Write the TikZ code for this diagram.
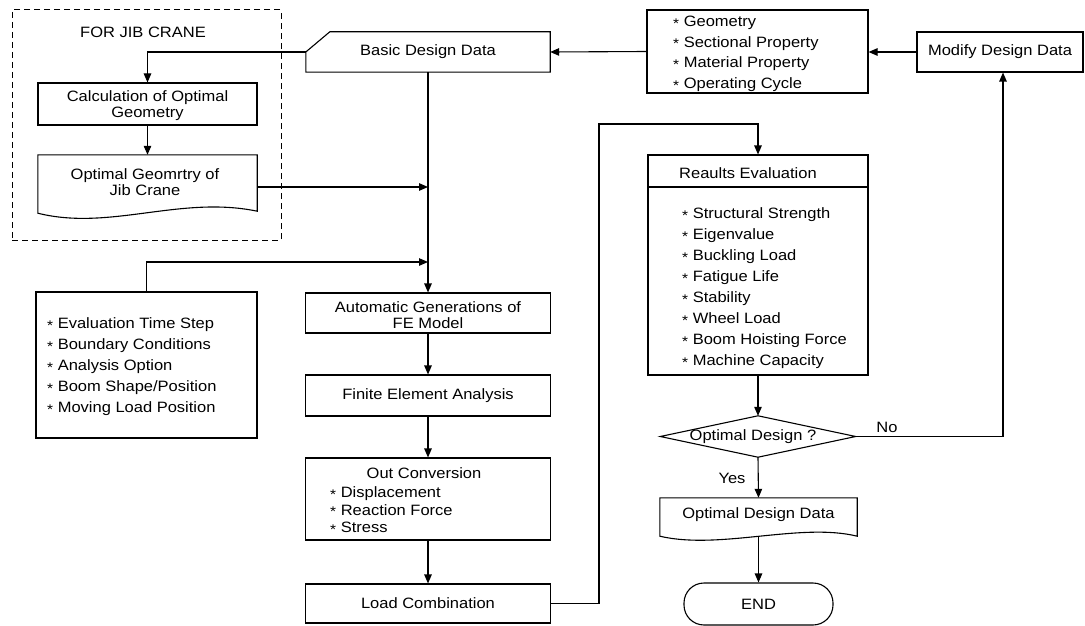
\documentclass[tikz,border=0pt]{standalone}
\usepackage{fontspec}
\setmainfont{Liberation Sans}[FakeStretch=1.1]
\usetikzlibrary{arrows.meta}
\newcommand{\st}{{\fontsize{14}{14}\selectfont\raisebox{-1.6pt}{*}}\ }
\begin{document}
\begin{tikzpicture}[x=1pt,y=-1pt,
  every node/.style={font=\fontsize{15}{16}\selectfont, inner sep=0pt},
  box/.style={draw, line width=1.1pt, align=center},
  shp/.style={line width=1.1pt},
  arr/.style={line width=1.1pt, -{Triangle[length=9pt,width=7.5pt]}},
  txt/.style={anchor=base west},
]
\useasboundingbox (0,0) rectangle (1085,626);

% dashed jib crane frame
\node[draw, line width=1pt, dash pattern=on 6pt off 4pt, minimum width=269pt, minimum height=230pt] (jib) at (146.5,125) {};
\node (jibt) at (143,32) {FOR JIB CRANE};

% basic design data (manual input)
\node[minimum width=244pt, minimum height=40pt] (basic) at (428,52) {Basic Design Data};
\draw[shp] (basic.south west) -- (basic.west) -- ([xshift=24pt]basic.north west) -- (basic.north east) -- (basic.south east) -- cycle;

% input list box
\node[box, minimum width=221pt, minimum height=83pt] (lst) at (757.5,51.5) {};
\foreach \t [count=\i] in {Geometry, Sectional Property, Material Property, Operating Cycle}
  \node[txt] (l\i) at (673,{26.5+20.7*(\i-1)}) {\st\t};

% modify
\node[box, minimum width=166pt, minimum height=40pt] (mod) at (1000,52) {Modify Design Data};

% calc
\node[box, minimum width=219pt, minimum height=42pt] (calc) at (147.5,104) {};
\node[align=center] (calct) at (147.5,106) {Calculation of Optimal\\Geometry};

% optimal geometry document
\node[minimum width=219pt, minimum height=51pt] (og) at (147.5,180.5) {};
\node[align=center] (ogt) at (145,182) {Optimal Geomrtry of\\Jib Crane};
\draw[shp] (og.north west) -- (og.north east) -- ([yshift=-5pt]og.south east)
  .. controls +(-77,-16) and +(72,18) .. ([yshift=-7pt]og.south west) -- cycle;

% central column
\node[box, minimum width=245pt, minimum height=40pt] (auto) at (428,313) {};
\node[align=center] (autot) at (428,315) {Automatic Generations of\\FE Model};
\node[box, minimum width=245pt, minimum height=41pt] (fea) at (428,395.5) {Finite Element Analysis};
\node[box, minimum width=245pt, minimum height=82pt] (out) at (428,499) {};
\node (outt) at (424,473) {Out Conversion};
\foreach \t [count=\i] in {Displacement, Reaction Force, Stress}
  \node[txt] (o\i) at (330,{497.5+17.5*(\i-1)}) {\st\t};
\node[box, minimum width=245pt, minimum height=39pt] (load) at (428,603.5) {Load Combination};

% parameters box
\node[box, minimum width=221pt, minimum height=146pt] (par) at (146.5,365) {};
\foreach \t [count=\i] in {Evaluation Time Step, Boundary Conditions, Analysis Option, Boom Shape/Position, Moving Load Position}
  \node[txt] (p\i) at (47,{328.5+21*(\i-1)}) {\st\t};

% results evaluation
\node[box, minimum width=220pt, minimum height=220pt] (res) at (758,265) {};
\coordinate (sep) at (0,187);
\draw[shp] (res.west |- sep) -- (res.east |- sep);
\node[txt] (rest) at (679,178.5) {Reaults Evaluation};
\foreach \t [count=\i] in {Structural Strength, Eigenvalue, Buckling Load, Fatigue Life, Stability, Wheel Load, Boom Hoisting Force, Machine Capacity}
  \node[txt] (r\i) at (682,{218.5+21*(\i-1)}) {\st\t};

% decision
\node[minimum width=195pt, minimum height=41pt] (dec) at (758,436.5) {};
\node (dect) at (753,437) {Optimal Design ?};
\draw[shp] (dec.west) -- (dec.north) -- (dec.east) -- (dec.south) -- cycle;
\node (yes) at (732,478) {Yes};
\node (no) at (887,427) {No};

% optimal design data document
\node[minimum width=197pt, minimum height=34pt] (doc2) at (758.5,515) {Optimal Design Data};
\draw[shp] (doc2.north west) -- (doc2.north east) -- ([yshift=-4pt]doc2.south east)
  .. controls +(-57,-14) and +(60,14) .. ([yshift=-4pt]doc2.south west) -- cycle;

% end
\node[draw, line width=1.1pt, rounded corners=20pt, minimum width=149pt, minimum height=42pt] (endn) at (758.5,604) {END};

% connectors
\draw[arr] (lst.west) -- (basic.east);
\draw[arr] (mod.west) -- (lst.east |- mod.west);
\draw[arr] (basic.west) -| (calc.north);
\draw[arr] (calc.south) -- (og.north);
\coordinate (j1) at (428,187);
\coordinate (j2) at (428,262);
\draw[arr] (og.east |- j1) -- (j1);
\draw[arr] (basic.south) -- (auto.north);
\draw[arr] (par.north) |- (j2);
\draw[arr] (auto.south) -- (fea.north);
\draw[arr] (fea.south) -- (out.north);
\draw[arr] (out.south) -- (load.north);
\coordinate (c1) at (599,124);
\draw[arr] (load.east) -| (c1) -| (res.north);
\draw[arr] (res.south) -- (dec.north);
\coordinate (c2) at (1003,0);
\draw[arr] (dec.east) -| (c2 |- mod.south);
\draw[arr] (dec.south) -- (doc2.north);
\draw[arr] ([yshift=-4pt]doc2.south) -- (endn.north);
\end{tikzpicture}
\end{document}
